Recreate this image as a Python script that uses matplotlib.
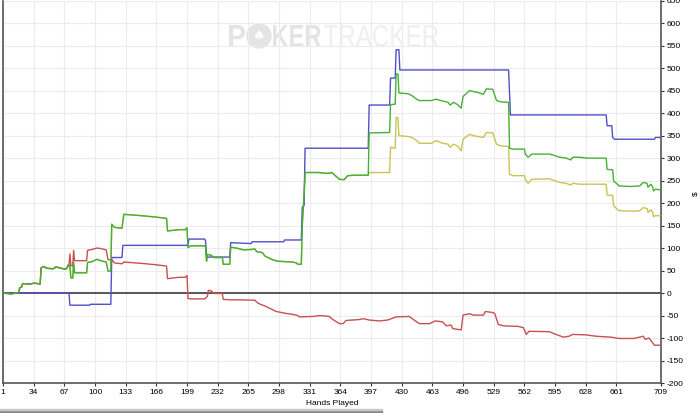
import numpy as np
from matplotlib import pyplot as plt, patches
from matplotlib.textpath import TextPath
from matplotlib.font_manager import FontProperties
from matplotlib.transforms import Affine2D, IdentityTransform

plt.rcParams['font.family'] = ['Liberation Sans', 'DejaVu Sans']
plt.rcParams['axes.unicode_minus'] = False

hand_ticks = [1, 34, 67, 100, 133, 166, 199, 232, 265, 298, 331, 364, 397,
              430, 463, 496, 529, 562, 595, 628, 661, 709]
value_ticks = list(range(-200, 651, 50))

# (hand, dollars) breakpoints
green_pts = [
    (1, 0), (6, -1), (10, -2), (14, 0), (18, 1), (19, 12), (21, 13), (22, 21),
    (30, 20), (35, 22), (41, 20), (42, 56), (45, 59), (48, 55), (55, 54),
    (58, 58), (64, 55), (68, 53), (70, 56), (71, 62), (73, 60), (74, 34),
    (76, 33), (77, 68), (78, 45), (91, 45), (92, 68), (97, 70), (102, 75),
    (106, 72), (112, 69), (114, 49), (117, 49), (118, 153), (121, 146),
    (129, 144), (131, 175), (150, 172), (165, 169), (177, 166), (178, 138),
    (190, 141), (197, 141), (199, 145), (200, 101), (203, 105), (218, 105),
    (219, 102), (220, 71), (221, 86), (225, 84), (228, 79), (237, 79),
    (238, 64), (245, 64), (246, 102), (252, 100), (260, 96), (269, 97),
    (272, 98), (274, 92), (280, 90), (283, 82), (290, 75), (296, 71),
    (303, 70), (312, 69), (317, 67), (318, 64), (322, 64), (323, 150),
    (325, 220), (326, 268), (340, 268), (350, 266), (355, 268), (358, 262),
    (363, 253), (368, 252), (372, 261), (380, 262), (394, 262), (395, 356),
    (417, 357), (418, 419), (423, 420), (424, 487), (426, 487), (427, 445),
    (437, 443), (441, 439), (446, 431), (449, 428), (462, 428), (467, 431),
    (474, 427), (480, 424), (482, 418), (486, 424), (490, 419), (494, 411),
    (496, 437), (503, 450), (507, 448), (512, 446), (518, 442), (521, 454),
    (528, 453), (532, 428), (537, 425), (545, 424), (546, 322), (550, 320),
    (562, 320), (563, 309), (566, 302), (570, 309), (589, 309), (594, 306),
    (600, 302), (607, 300), (612, 296), (614, 302), (621, 302), (629, 300),
    (650, 300), (651, 275), (657, 274), (658, 249), (661, 244), (664, 238),
    (676, 237), (686, 238), (690, 246), (694, 244), (695, 235), (698, 242),
    (700, 236), (701, 227), (703, 231), (709, 229),
]

blue_pts = [
    (1, 0), (72, 0), (73, -27), (94, -27), (95, -25), (117, -25), (118, 79),
    (129, 79), (130, 106), (200, 106), (201, 120), (218, 120), (219, 116),
    (220, 80), (245, 80), (246, 112), (268, 110), (269, 114), (303, 114),
    (304, 118), (322, 118), (323, 190), (325, 195), (326, 322), (394, 322),
    (395, 418), (417, 418), (418, 478), (423, 478), (424, 541), (427, 541),
    (428, 496), (545, 496), (547, 396), (650, 396), (651, 372), (656, 372),
    (657, 346), (659, 342), (702, 342), (703, 346), (709, 346),
]

red_pts = [
    (1, 0), (6, -1), (10, -2), (14, 0), (18, 1), (19, 12), (21, 13), (22, 21),
    (30, 20), (35, 22), (41, 20), (42, 56), (45, 59), (48, 55), (55, 54),
    (58, 58), (64, 55), (68, 53), (70, 56), (71, 62), (72, 60), (73, 87),
    (74, 61), (76, 60), (77, 95), (78, 72), (91, 72), (92, 95), (97, 97),
    (102, 100), (106, 99), (112, 96), (114, 74), (118, 74), (121, 67),
    (129, 65), (131, 69), (150, 66), (165, 63), (177, 60), (178, 32),
    (190, 35), (197, 35), (199, 39), (200, -12), (203, -13), (218, -13),
    (220, -9), (221, -7), (222, 6), (225, 5), (228, -1), (237, -1),
    (238, -14), (245, -15), (255, -15), (272, -16), (275, -22), (278, -25),
    (283, -29), (288, -34), (295, -41), (305, -45), (317, -49), (320, -53),
    (335, -52), (342, -50), (352, -52), (356, -59), (363, -68), (367, -68),
    (370, -61), (384, -59), (389, -57), (395, -60), (406, -62), (415, -60),
    (424, -53), (438, -52), (442, -58), (449, -68), (460, -68), (466, -62),
    (474, -64), (478, -73), (483, -71), (485, -79), (494, -82), (496, -49),
    (503, -46), (507, -49), (518, -49), (520, -41), (527, -43), (530, -45),
    (534, -70), (540, -73), (555, -74), (561, -77), (564, -92), (567, -85),
    (589, -86), (596, -92), (604, -98), (610, -96), (614, -92), (628, -93),
    (639, -96), (655, -98), (664, -101), (680, -101), (686, -98), (690, -96),
    (692, -103), (696, -100), (698, -105), (702, -116), (709, -116),
]

# all-in adjusted line sits under the green one until hand 395
yellow_tail = [
    (395, 268), (417, 268), (418, 324), (423, 322), (424, 391), (426, 389),
    (427, 350), (437, 348), (441, 346), (446, 339), (449, 333), (462, 333),
    (467, 339), (474, 333), (480, 331), (482, 324), (486, 331), (490, 327),
    (494, 316), (496, 342), (503, 353), (507, 350), (512, 348), (518, 346),
    (521, 357), (528, 356), (532, 331), (537, 327), (545, 326), (546, 264),
    (550, 261), (562, 261), (563, 253), (566, 244), (570, 253), (589, 254),
    (600, 246), (607, 244), (612, 240), (614, 244), (621, 242), (650, 242),
    (651, 218), (657, 217), (658, 194), (661, 188), (664, 183), (680, 182),
    (686, 183), (690, 190), (694, 188), (695, 179), (698, 185), (700, 180),
    (701, 170), (703, 172), (709, 172),
]
yellow_pts = [p for p in green_pts if p[0] < 395] + yellow_tail

FIG_W, FIG_H = 700, 413


def squeezed_text(fig, s, left, right, top, bottom, weight, color):
    # watermark lettering, stretched to a pixel box (y counted from the top)
    path = TextPath((0, 0), s, size=1, prop=FontProperties(family='Liberation Sans', weight=weight))
    ext = path.get_extents()
    sx = (right - left) / ext.width
    sy = (bottom - top) / ext.height
    tr = Affine2D().translate(-ext.x0, -ext.y0).scale(sx, sy).translate(left, FIG_H - bottom)
    patch = patches.PathPatch(tr.transform_path(path), color=color, lw=0,
                              transform=IdentityTransform(), zorder=0)
    fig.add_artist(patch)


def main():
    fig = plt.figure(figsize=(7, 4.13), dpi=100)
    ax = fig.add_axes([3 / FIG_W, 30 / FIG_H, 658 / FIG_W, 382.3 / FIG_H])
    ax.set_facecolor('none')

    # watermark
    squeezed_text(fig, 'P', 229, 245, 25, 47, 'bold', '#e4e4e4')
    fig.add_artist(patches.Ellipse((259 / FIG_W, 1 - 36 / FIG_H), 24 / FIG_W, 24 / FIG_H,
                                   transform=fig.transFigure, color='#e4e4e4', zorder=0))
    fig.text(259 / FIG_W, 1 - 36.5 / FIG_H, '\u2660', fontsize=10, color='white',
             family='DejaVu Sans', ha='center', va='center', zorder=1)
    squeezed_text(fig, 'KER', 273, 321, 25, 47, 'bold', '#e4e4e4')
    squeezed_text(fig, 'TRACKER', 324, 438, 25, 47, 'normal', '#efefef')

    series = [
        (yellow_pts, '#c8c455'),
        (red_pts, '#c95050'),
        (blue_pts, '#5050c8'),
        (green_pts, '#46b036'),
    ]
    ax.axhline(0, color='#4a4a4a', lw=1.3, zorder=2)
    for pts, color in series:
        h, v = np.array(pts).T
        ax.plot(h, v, color=color, lw=1.0, zorder=3)

    ax.set_xlim(1, 709)
    ax.set_ylim(-200, 650)
    ax.set_xticks(hand_ticks)
    ax.set_yticks(value_ticks)
    ax.grid(True, color='#ececec', lw=0.8)
    ax.set_axisbelow(True)

    ax.yaxis.tick_right()
    ax.yaxis.set_label_position('right')
    ax.tick_params(axis='both', labelsize=6, length=2.5, width=0.8,
                   color='#333333', pad=1.5)
    ax.tick_params(axis='y', which='both', left=False, right=True)

    for side in ['left', 'bottom', 'right']:
        ax.spines[side].set_color('#555555')
        ax.spines[side].set_linewidth(1.2)
    ax.spines['top'].set_visible(False)

    ax.set_xlabel('Hands Played', fontsize=6, labelpad=3)
    ax.set_ylabel('$', fontsize=6, rotation=90)
    ax.yaxis.set_label_coords(1.047, 0.496)

    # scroll bar strip under the chart
    fig.add_artist(patches.Rectangle((0, 0), 382 / FIG_W, 3.5 / FIG_H,
                                     transform=fig.transFigure,
                                     color='#8a8a8a', zorder=0))
    fig.add_artist(patches.Rectangle((0, 3.5 / FIG_H), 382 / FIG_W, 1 / FIG_H,
                                     transform=fig.transFigure,
                                     color='#c8c8c8', zorder=0))

    plt.savefig('out.png', dpi=100)


if __name__ == '__main__':
    main()
